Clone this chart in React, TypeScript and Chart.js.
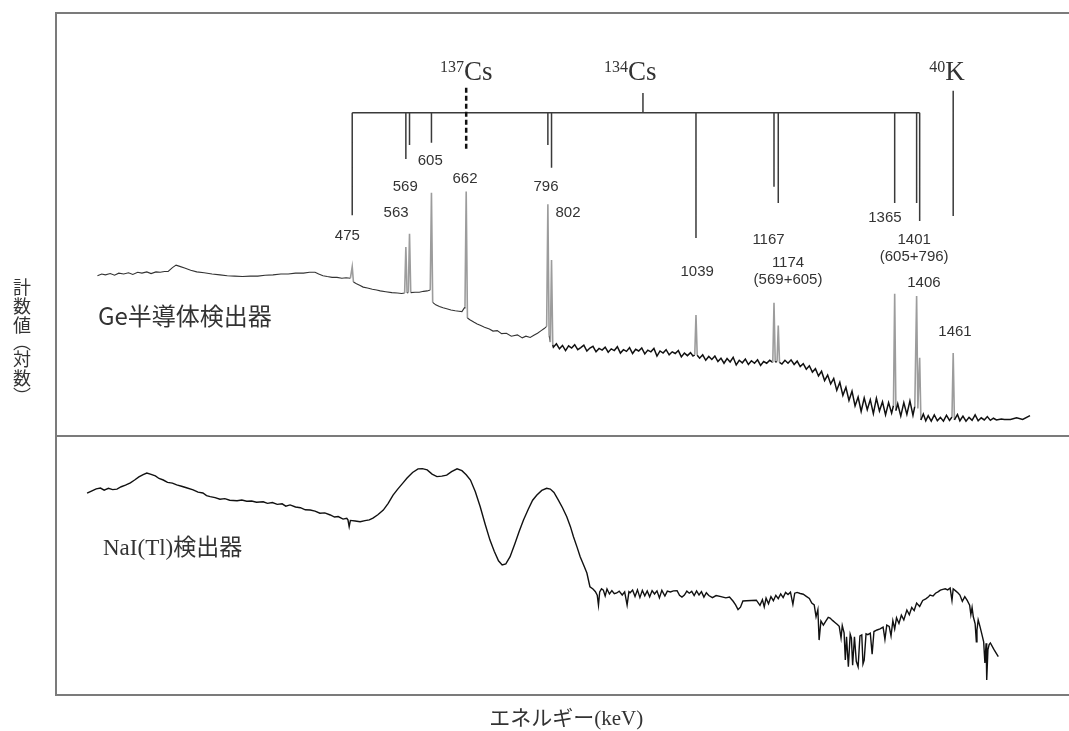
import React, { useEffect, useRef } from "react";
import { Chart, registerables } from "chart.js";

Chart.register(...registerables);

// ---- Data (energy keV, relative log-count level 0-100 within each panel) ----
const geSpectrum: [number, number][] = [
  [57, 37.9], [64, 38.3], [70, 38.1], [78, 38.4], [85, 38.0], [92, 38.5], [100, 38.3], [108, 38.6], [115, 38.2],
  [123, 38.7], [130, 38.5], [138, 38.8], [145, 38.4], [153, 38.8], [160, 38.7], [167, 38.9], [173, 38.9], [180, 39.8],
  [186, 40.4], [192, 40.1], [200, 39.7], [210, 39.2], [220, 38.8], [232, 38.6], [245, 38.3], [258, 38.1], [270, 37.9],
  [282, 37.8], [295, 37.7], [308, 37.8], [320, 37.8], [332, 38.0], [345, 38.1], [358, 38.3], [370, 38.3], [382, 38.5],
  [395, 38.5], [405, 38.7], [414, 38.7], [420, 38.3], [427, 37.9], [434, 37.7], [442, 37.5], [450, 37.5], [458, 37.3],
  [465, 37.4], [472, 37.3], [475, 40.0], [477, 36.4], [482, 36.0], [488, 35.6], [493, 35.2], [500, 35.0], [508, 34.7],
  [515, 34.5], [521, 34.3], [530, 34.1], [540, 33.9], [549, 33.8], [556, 33.7], [561, 33.8], [563, 44.7], [565, 33.8],
  [567, 33.9], [569, 47.8], [571, 33.9], [578, 34.0], [585, 34.0], [592, 34.2], [598, 34.3], [603, 34.5], [605, 57.5],
  [607, 31.6], [612, 31.0], [618, 30.6], [624, 30.3], [630, 30.1], [637, 29.8], [644, 29.6], [650, 29.5], [655, 29.4],
  [659, 30.3], [660, 30.6], [662, 57.8], [664, 27.9], [668, 27.5], [675, 26.9], [680, 26.5], [685, 26.2], [692, 25.7],
  [700, 25.3], [706, 24.8], [713, 24.9], [720, 24.2], [728, 24.3], [736, 23.6], [746, 23.9], [754, 23.2], [760, 23.6],
  [767, 23.3], [773, 23.8], [779, 24.3], [785, 24.9], [790, 25.4], [794, 25.9], [796, 54.8], [798, 23.8], [800, 22.2],
  [802, 41.6], [804, 21.5], [805, 21.0], [810, 21.8], [815, 20.6], [820, 21.4], [825, 20.2], [830, 21.3], [835, 20.8],
  [840, 21.6], [845, 20.4], [850, 20.9], [855, 21.5], [860, 20.1], [865, 20.8], [870, 21.2], [875, 19.9], [880, 20.7],
  [885, 20.3], [890, 21.0], [895, 19.8], [900, 20.6], [905, 20.2], [910, 21.1], [915, 19.6], [920, 20.4], [925, 20.0],
  [930, 20.9], [935, 19.5], [940, 20.5], [945, 20.1], [950, 20.8], [955, 19.4], [960, 20.3], [965, 19.9], [970, 20.7],
  [975, 18.9], [980, 20.1], [985, 19.6], [990, 20.4], [995, 19.2], [1000, 19.9], [1005, 19.5], [1010, 20.2], [1015, 18.7],
  [1020, 19.6], [1025, 19.0], [1030, 19.7], [1034, 18.9], [1037, 19.2], [1039, 28.6], [1041, 19.1], [1045, 18.4],
  [1050, 19.2], [1055, 17.9], [1060, 18.8], [1065, 18.1], [1070, 18.9], [1075, 17.6], [1080, 18.4], [1085, 17.2],
  [1090, 18.3], [1095, 17.5], [1100, 18.6], [1105, 16.8], [1110, 17.9], [1115, 17.3], [1120, 18.2], [1125, 16.9],
  [1130, 17.8], [1135, 17.2], [1140, 18.0], [1145, 16.7], [1150, 17.6], [1155, 17.2], [1160, 17.9], [1165, 17.4],
  [1167, 31.5], [1169, 17.5], [1172, 17.6], [1174, 26.1], [1176, 17.4], [1180, 17.0], [1185, 17.9], [1190, 17.2],
  [1195, 18.0], [1200, 16.9], [1205, 17.7], [1210, 16.4], [1215, 17.1], [1220, 15.8], [1225, 16.6], [1230, 15.1],
  [1235, 15.9], [1240, 14.2], [1245, 15.3], [1250, 13.1], [1255, 14.4], [1260, 12.3], [1265, 13.6], [1270, 10.8],
  [1275, 12.7], [1280, 9.6], [1285, 11.5], [1290, 8.4], [1295, 10.6], [1300, 7.1], [1305, 9.2], [1310, 5.8],
  [1315, 9.0], [1320, 6.2], [1325, 8.6], [1330, 5.3], [1335, 8.9], [1340, 5.9], [1345, 8.1], [1350, 5.0], [1355, 7.9],
  [1360, 5.4], [1363, 7.2], [1365, 33.6], [1367, 6.0], [1370, 7.6], [1375, 4.7], [1380, 7.9], [1385, 5.1], [1390, 8.3],
  [1395, 4.9], [1398, 7.0], [1401, 33.1], [1403, 6.5], [1406, 18.5], [1408, 3.8], [1412, 5.2], [1416, 3.6], [1420, 4.8],
  [1425, 3.5], [1430, 5.0], [1435, 3.6], [1440, 4.4], [1445, 3.5], [1450, 4.9], [1455, 3.7], [1459, 4.5], [1461, 19.6],
  [1463, 3.8], [1468, 5.1], [1472, 3.6], [1477, 4.7], [1482, 3.5], [1487, 4.4], [1492, 3.7], [1497, 5.0], [1502, 3.6],
  [1507, 4.3], [1512, 3.8], [1517, 4.6], [1522, 3.7], [1527, 4.2], [1532, 3.8], [1540, 4.0], [1545, 3.9], [1555, 3.9],
  [1565, 4.3], [1575, 3.9], [1587, 4.8],
];

const naiSpectrum: [number, number][] = [
  [40, 77.9], [48, 78.8], [55, 79.6], [62, 79.9], [68, 79.1], [75, 79.8], [82, 79.3], [89, 79.5], [96, 80.4], [103, 81.0],
  [111, 81.9], [118, 83.0], [125, 84.2], [132, 85.1], [138, 85.7], [145, 85.2], [152, 84.6], [158, 83.6], [165, 83.0],
  [172, 82.1], [180, 81.8], [187, 81.1], [195, 80.6], [203, 80.0], [214, 79.2], [222, 78.3], [230, 78.0], [236, 77.0],
  [242, 76.6], [250, 76.2], [258, 75.6], [266, 75.8], [274, 75.2], [286, 75.0], [294, 75.3], [302, 74.8], [310, 74.9],
  [318, 74.4], [329, 74.6], [336, 74.0], [344, 74.3], [352, 73.6], [360, 73.8], [366, 72.9], [373, 73.4], [382, 72.6],
  [390, 72.3], [398, 71.5], [406, 71.4], [414, 71.0], [422, 70.2], [430, 70.3], [439, 69.5], [446, 68.7], [452, 68.9],
  [460, 67.9], [466, 68.2], [468, 67.6], [470, 65.0], [472, 67.4], [480, 67.2], [488, 66.9], [496, 67.3], [503, 67.6],
  [509, 68.3], [517, 69.6], [526, 71.4], [534, 74.0], [542, 77.2], [550, 79.6], [558, 81.8], [565, 83.8], [574, 85.9],
  [583, 87.3], [590, 87.4], [598, 86.9], [606, 85.3], [614, 84.3], [622, 84.5], [630, 84.9], [638, 86.2], [647, 87.3],
  [655, 86.6], [662, 85.0], [669, 83.0], [677, 78.5], [685, 72.7], [693, 66.0], [701, 59.8], [708, 55.5], [715, 51.8],
  [721, 50.2], [727, 50.6], [734, 53.4], [742, 58.5], [749, 63.2], [756, 67.6], [764, 71.8], [771, 75.2], [778, 77.2],
  [786, 79.0], [794, 79.8], [800, 79.5], [806, 78.2], [813, 75.3], [820, 72.3], [827, 68.8], [833, 65.0], [838, 61.1],
  [844, 57.0], [849, 53.4], [855, 50.0], [860, 47.1], [865, 41.8], [870, 40.9], [874, 39.9], [877, 38.5], [879, 34.7],
  [881, 39.8], [884, 41.0], [887, 40.5], [890, 38.2], [893, 40.9], [897, 39.0], [901, 40.3], [905, 39.1], [909, 39.4],
  [913, 40.1], [918, 38.6], [922, 39.8], [926, 34.7], [929, 39.9], [931, 39.5], [935, 40.5], [939, 38.0], [943, 40.6],
  [947, 37.6], [951, 40.4], [955, 38.3], [959, 40.2], [963, 37.9], [967, 40.3], [971, 39.0], [975, 40.2], [979, 37.5],
  [983, 40.4], [988, 38.2], [992, 40.1], [997, 39.8], [1002, 40.2], [1008, 40.3], [1012, 38.5], [1016, 37.8], [1020, 38.6],
  [1024, 40.1], [1028, 39.3], [1032, 40.0], [1036, 38.4], [1040, 40.2], [1044, 38.6], [1048, 39.9], [1052, 37.8],
  [1056, 39.5], [1060, 38.4], [1066, 37.6], [1072, 38.4], [1080, 38.0], [1088, 37.5], [1094, 37.8], [1100, 36.2],
  [1104, 34.8], [1108, 33.0], [1112, 33.9], [1116, 36.3], [1122, 36.4], [1130, 36.5], [1138, 36.6], [1144, 34.6],
  [1148, 36.8], [1151, 34.0], [1154, 37.4], [1158, 35.2], [1162, 38.0], [1166, 36.4], [1170, 38.5], [1174, 37.2],
  [1178, 39.0], [1182, 37.6], [1186, 39.6], [1190, 38.8], [1194, 39.7], [1198, 35.0], [1201, 39.3], [1205, 39.6],
  [1210, 39.2], [1215, 38.9], [1220, 38.1], [1225, 37.3], [1229, 35.5], [1233, 34.8], [1236, 30.2], [1239, 33.0],
  [1241, 21.2], [1244, 28.6], [1248, 27.0], [1252, 28.5], [1256, 30.0], [1259, 29.7], [1263, 28.8], [1267, 28.0],
  [1271, 27.2], [1274, 26.5], [1277, 22.0], [1279, 26.8], [1282, 24.0], [1284, 13.5], [1286, 22.5], [1289, 10.9],
  [1292, 23.5], [1294, 22.0], [1296, 11.5], [1299, 22.5], [1302, 13.0], [1305, 10.9], [1308, 22.8], [1311, 23.2],
  [1313, 12.0], [1315, 13.5], [1318, 23.6], [1321, 23.3], [1325, 23.9], [1328, 15.8], [1331, 24.5], [1336, 25.1],
  [1341, 25.5], [1346, 26.2], [1349, 21.5], [1352, 27.0], [1356, 26.5], [1359, 22.8], [1362, 28.7], [1365, 25.5],
  [1368, 29.8], [1372, 27.6], [1376, 30.8], [1380, 29.0], [1385, 32.8], [1389, 31.0], [1393, 33.8], [1397, 32.6],
  [1401, 35.5], [1406, 34.2], [1411, 36.5], [1416, 37.1], [1420, 37.8], [1423, 38.6], [1428, 38.2], [1432, 39.3],
  [1436, 39.8], [1440, 40.5], [1444, 40.8], [1448, 41.0], [1452, 40.6], [1456, 41.3], [1459, 36.5], [1461, 41.0],
  [1465, 40.2], [1469, 39.4], [1472, 38.6], [1476, 36.2], [1480, 38.0], [1484, 36.5], [1488, 34.7], [1490, 31.0],
  [1492, 33.8], [1494, 30.2], [1497, 27.5], [1499, 20.5], [1500, 25.1], [1502, 29.0], [1505, 26.4], [1508, 23.5],
  [1511, 20.5], [1513, 12.4], [1515, 20.0], [1516, 5.8], [1518, 17.5], [1520, 19.5], [1522, 20.1], [1528, 17.5],
  [1535, 14.8],
];

const peakEnergies = [475, 563, 569, 605, 662, 796, 802, 1039, 1167, 1174, 1365, 1401, 1406, 1461];
const cs134Energies = [475, 563, 569, 605, 796, 802, 1039, 1167, 1174, 1365, 1401, 1406];
const cs137Energy = 662;
const k40Energy = 1461;

// ---- Layout of the annotation (energy for x, Ge-panel level for y) ----
const cs134BarLevel = 76.4;
const cs134LineEnds = [52.2, 65.5, 68.8, 69.3, 68.8, 63.4, 46.8, 58.9, 55.1, 55.1, 55.1, 50.8];
const peakLabelLayout: [string, number, number][] = [
  ["475", 467, 47.3], ["563", 547, 52.7], ["569", 562, 58.9], ["605", 603, 65.0], ["662", 660, 60.8],
  ["796", 793, 58.9], ["802", 829, 52.7], ["1039", 1041, 38.8], ["1167", 1158, 46.3], ["1174", 1190, 40.9],
  ["(569+605)", 1190, 36.9], ["1365", 1349, 51.5], ["1401", 1397, 46.3], ["(605+796)", 1397, 42.3],
  ["1406", 1413, 36.2], ["1461", 1464, 24.6],
];

const X_MIN = -11;
const X_MAX = 1651;
// Ge panel: 0..100 over the upper 423 px; NaI panel: 0..100 over the lower 259 px
const GE_MIN = -61.23;
const NAI_MAX = 263.3;

const peakSet = new Set(peakEnergies);
const isPeakSeg = (c: any) => peakSet.has(c.p0.parsed.x) || peakSet.has(c.p1.parsed.x);

const annotatePlugin = {
  id: "spectrumAnnotations",
  afterDatasetsDraw(chart: any) {
    const { ctx, chartArea: a, scales } = chart;
    const X = (e: number) => scales.x.getPixelForValue(e);
    const G = (v: number) => scales.yGe.getPixelForValue(v);
    ctx.save();

    // frame and divider
    ctx.strokeStyle = "#7b7b7b";
    ctx.lineWidth = 2;
    ctx.beginPath();
    ctx.moveTo(a.right + 2, a.top);
    ctx.lineTo(a.left, a.top);
    ctx.lineTo(a.left, a.bottom);
    ctx.lineTo(a.right + 2, a.bottom);
    const yd = G(0);
    ctx.moveTo(a.left, yd);
    ctx.lineTo(a.right + 2, yd);
    ctx.stroke();

    // 134Cs decay scheme bar
    ctx.strokeStyle = "#3a3a3a";
    ctx.lineWidth = 1.5;
    ctx.beginPath();
    const yBar = G(cs134BarLevel);
    ctx.moveTo(X(cs134Energies[0]), yBar);
    ctx.lineTo(X(cs134Energies[cs134Energies.length - 1]), yBar);
    cs134Energies.forEach((e, i) => {
      ctx.moveTo(X(e), yBar);
      ctx.lineTo(X(e), G(cs134LineEnds[i]));
    });
    // 134Cs centre tick
    ctx.moveTo(X(952), yBar);
    ctx.lineTo(X(952), G(81.1));
    // 40K line
    ctx.moveTo(X(k40Energy), G(81.6));
    ctx.lineTo(X(k40Energy), G(52.0));
    ctx.stroke();

    // 137Cs dashed
    ctx.strokeStyle = "#111";
    ctx.lineWidth = 2.5;
    ctx.setLineDash([5, 3]);
    ctx.beginPath();
    ctx.moveTo(X(cs137Energy), G(82.3));
    ctx.lineTo(X(cs137Energy), G(67.6));
    ctx.stroke();
    ctx.setLineDash([]);

    // isotope labels
    const iso = (sup: string, main: string, e: number) => {
      ctx.fillStyle = "#333";
      ctx.textBaseline = "alphabetic";
      ctx.textAlign = "left";
      ctx.font = "16px 'Liberation Serif'";
      const ws = ctx.measureText(sup).width;
      ctx.font = "27px 'Liberation Serif'";
      const wm = ctx.measureText(main).width;
      const x0 = X(e) - (ws + wm) / 2;
      const yb = G(84.2);
      ctx.font = "16px 'Liberation Serif'";
      ctx.fillText(sup, x0, yb - 8);
      ctx.font = "27px 'Liberation Serif'";
      ctx.fillText(main, x0 + ws, yb);
    };
    iso("137", "Cs", cs137Energy);
    iso("134", "Cs", 931);
    iso("40", "K", 1451);

    // peak labels
    ctx.fillStyle = "#333";
    ctx.font = "15px 'Liberation Sans'";
    ctx.textAlign = "center";
    ctx.textBaseline = "middle";
    peakLabelLayout.forEach(([t, e, v]) => ctx.fillText(t, X(e), G(v)));

    // panel labels
    ctx.textAlign = "left";
    ctx.fillStyle = "#333";
    ctx.font = "24px 'Noto Sans CJK JP'";
    ctx.fillText("Ge半導体検出器", a.left + 42, G(28.4));
    ctx.font = "23px 'Liberation Serif', 'Noto Sans CJK JP'";
    ctx.fillText("NaI(Tl)検出器", a.left + 47, scales.yNaI.getPixelForValue(56.4));

    // axis titles
    ctx.textAlign = "center";
    ctx.font = "21px 'Liberation Serif', 'Noto Sans CJK JP'";
    ctx.fillText("エネルギー(keV)", X(826), a.bottom + 24);
    ctx.font = "18px 'Noto Sans CJK JP'";
    const vchars = ["計", "数", "値", "︵", "対", "数", "︶"];
    const vy = [287, 306, 325, 342, 359, 378, 396];
    vchars.forEach((c, i) => ctx.fillText(c, 22, vy[i]));

    ctx.restore();
  },
};

export default function App() {
  const ref = useRef<HTMLCanvasElement | null>(null);
  useEffect(() => {
    if (!ref.current) return;
    const chart = new Chart(ref.current, {
      type: "line",
      data: {
        datasets: [
          {
            label: "Ge半導体検出器",
            data: geSpectrum.map(([x, y]) => ({ x, y })),
            yAxisID: "yGe",
            borderColor: "#1a1a1a",
            borderWidth: 1.2,
            pointRadius: 0,
            tension: 0,
            segment: {
              borderColor: (c: any) => (isPeakSeg(c) ? "#9c9c9c" : c.p0.parsed.x > 800 ? "#111" : "#333"),
              borderWidth: (c: any) => (isPeakSeg(c) ? 1.6 : c.p0.parsed.x > 800 ? 1.5 : 1.1),
            },
          },
          {
            label: "NaI(Tl)検出器",
            data: naiSpectrum.map(([x, y]) => ({ x, y })),
            yAxisID: "yNaI",
            borderColor: "#111",
            borderWidth: 1.4,
            pointRadius: 0,
            tension: 0,
          },
        ],
      },
      options: {
        responsive: false,
        animation: false,
        layout: { padding: { left: 56, right: 0, top: 13, bottom: 36 } },
        plugins: { legend: { display: false }, tooltip: { enabled: false } },
        scales: {
          x: { type: "linear", min: X_MIN, max: X_MAX, display: false },
          yGe: { type: "linear", min: GE_MIN, max: 100, display: false },
          yNaI: { type: "linear", min: 0, max: NAI_MAX, display: false },
        },
      },
      plugins: [annotatePlugin],
    });
    return () => chart.destroy();
  }, []);
  return (
    <div style={{ position: "absolute", left: 0, top: 0, width: 1069, height: 731, background: "#fff" }}>
      <canvas ref={ref} width={1069} height={731} />
    </div>
  );
}
